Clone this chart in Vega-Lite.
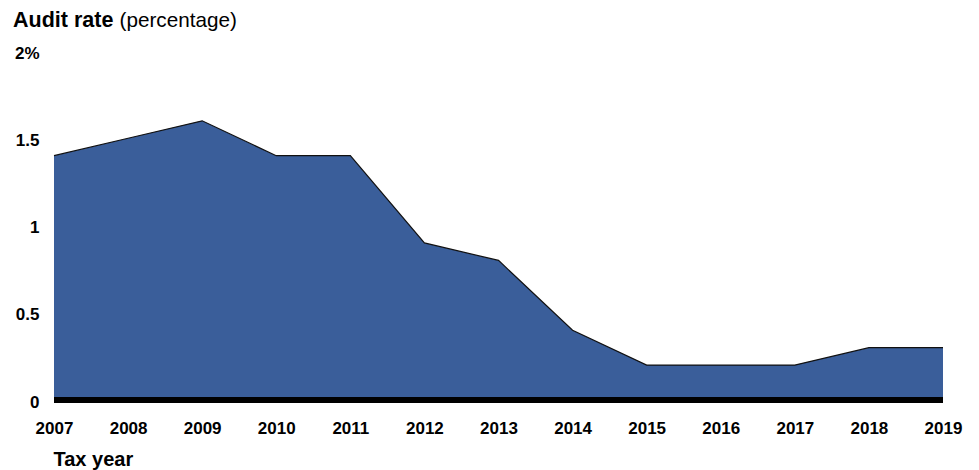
{
  "$schema": "https://vega.github.io/schema/vega-lite/v6.json",
  "width": 889,
  "height": 349,
  "autosize": {"type": "none"},
  "padding": {"left": 54, "top": 51, "right": 36, "bottom": 70},
  "background": "white",
  "title": {
    "text": "Audit rate",
    "anchor": "start",
    "frame": "group",
    "font": "Liberation Sans",
    "fontSize": 21.5,
    "fontWeight": "bold",
    "color": "#000000",
    "baseline": "alphabetic",
    "dx": -41,
    "dy": 43,
    "offset": 4
  },
  "config": {
    "view": {"stroke": null},
    "axis": {"grid": false, "domain": false, "ticks": false}
  },
  "data": {
    "values": [
      {"year": 2007, "rate": 1.4},
      {"year": 2008, "rate": 1.5},
      {"year": 2009, "rate": 1.6},
      {"year": 2010, "rate": 1.4},
      {"year": 2011, "rate": 1.4},
      {"year": 2012, "rate": 0.9},
      {"year": 2013, "rate": 0.8},
      {"year": 2014, "rate": 0.4},
      {"year": 2015, "rate": 0.2},
      {"year": 2016, "rate": 0.2},
      {"year": 2017, "rate": 0.2},
      {"year": 2018, "rate": 0.3},
      {"year": 2019, "rate": 0.3}
    ]
  },
  "layer": [
    {
      "encoding": {
        "x": {
          "field": "year",
          "type": "quantitative",
          "scale": {"domain": [2007, 2019], "nice": false, "zero": false},
          "axis": {
            "values": [2007, 2008, 2009, 2010, 2011, 2012, 2013, 2014, 2015, 2016, 2017, 2018, 2019],
            "format": "d",
            "labelFont": "Liberation Sans",
            "labelFontSize": 17,
            "labelFontWeight": "bold",
            "labelColor": "#000000",
            "labelPadding": 20,
            "labelFlush": false,
            "labelOverlap": false,
            "title": "Tax year",
            "titleFont": "Liberation Sans",
            "titleFontSize": 20,
            "titleFontWeight": "bold",
            "titleColor": "#000000",
            "titleAlign": "left",
            "titleAnchor": "start",
            "titleBaseline": "alphabetic",
            "titleX": -1,
            "titleY": 65
          }
        },
        "y": {
          "field": "rate",
          "type": "quantitative",
          "scale": {"domain": [0, 2], "nice": false},
          "axis": {
            "values": [0, 0.5, 1, 1.5, 2],
            "labelExpr": "datum.value == 2 ? '2%' : '' + datum.value",
            "labelFont": "Liberation Sans",
            "labelFontSize": 17,
            "labelFontWeight": "bold",
            "labelColor": "#000000",
            "labelPadding": 15,
            "labelAlign": "right",
            "labelBaseline": "middle",
            "labelOffset": 2,
            "labelFlush": false,
            "labelOverlap": false,
            "title": "(percentage)",
            "titleFont": "Liberation Sans",
            "titleFontSize": 20.7,
            "titleFontWeight": "normal",
            "titleColor": "#000000",
            "titleAngle": 0,
            "titleAlign": "left",
            "titleBaseline": "alphabetic",
            "titleX": 65,
            "titleY": -25
          }
        }
      },
      "layer": [
        {"mark": {"type": "area", "color": "#3a5e9a", "opacity": 1}},
        {"mark": {"type": "line", "color": "#111111", "strokeWidth": 1.2}}
      ]
    },
    {
      "mark": {"type": "rule", "color": "#000000", "strokeWidth": 5},
      "encoding": {
        "y": {"datum": 0, "type": "quantitative"}
      }
    }
  ]
}
